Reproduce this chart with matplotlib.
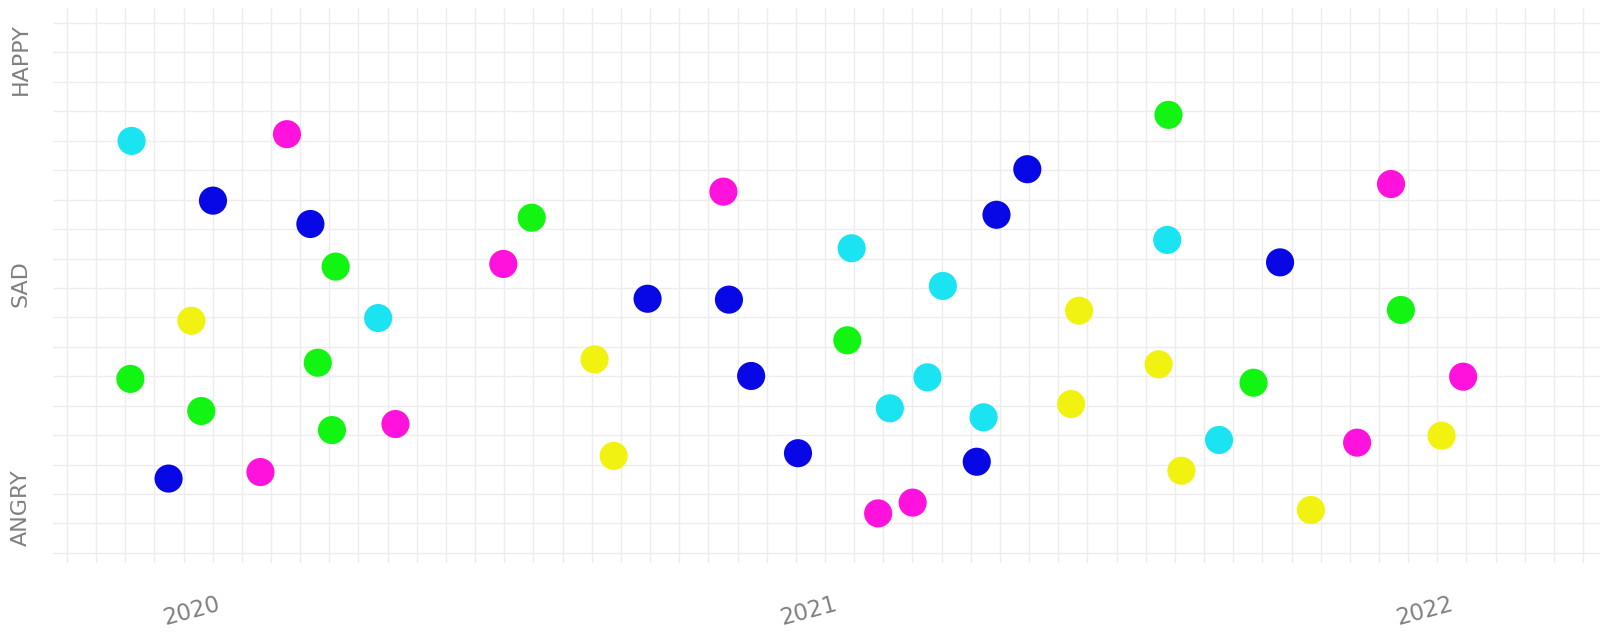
import matplotlib
matplotlib.use("Agg")
import matplotlib.pyplot as plt
import numpy as np

# Mood entries per colour group: x = decimal year, y = mood (1 angry, 2 sad, 3 happy)
cyanX = [2019.902, 2020.302, 2021.070, 2021.218, 2021.193, 2021.132, 2021.284, 2021.582, 2021.666]
cyanY = [2.635, 1.846, 2.157, 1.989, 1.582, 1.444, 1.404, 2.194, 1.303]

blueX = [2020.034, 2020.192, 2019.962, 2021.355, 2021.305, 2020.739, 2020.871, 2020.907, 2020.983, 2021.273, 2021.765]
blueY = [2.369, 2.265, 1.131, 2.509, 2.306, 1.932, 1.928, 1.588, 1.244, 1.206, 2.094]

magentaX = [2020.154, 2020.505, 2020.330, 2020.111, 2020.862, 2021.113, 2021.169, 2021.945, 2022.062, 2021.890]
magentaY = [2.665, 2.087, 1.374, 1.160, 2.409, 0.976, 1.024, 2.443, 1.585, 1.291]

greenX = [2020.233, 2020.551, 2020.204, 2019.900, 2020.015, 2020.227, 2021.063, 2021.584, 2021.961, 2021.722]
greenY = [2.075, 2.293, 1.647, 1.575, 1.432, 1.347, 1.747, 2.751, 1.882, 1.558]

yellowX = [2019.999, 2021.439, 2020.653, 2021.426, 2020.684, 2021.568, 2022.027, 2021.605, 2021.815]
yellowY = [1.834, 1.879, 1.662, 1.463, 1.232, 1.640, 1.322, 1.166, 0.991]

yearTicks = [2020, 2021, 2022]
yearLabels = ["2020", "2021", "2022"]
moodTicks = [1, 2, 3]
moodLabels = ["ANGRY", "SAD", "HAPPY"]

POINT_SIZE = 410
TEXT_COLOR = "#808080"
GRID_COLOR = "#ededed"

fig = plt.figure(figsize=(16.03, 6.32), dpi=100)
ax = fig.add_axes([53 / 1603, 1 - 563 / 632, 1547 / 1603, 555 / 632])

groups = [
    (cyanX, cyanY, "#1ae4f2"),
    (blueX, blueY, "#0808e6"),
    (magentaX, magentaY, "#ff12dc"),
    (greenX, greenY, "#12f512"),
    (yellowX, yellowY, "#f2f210"),
]
for xs, ys, col in groups:
    ax.scatter(xs, ys, s=POINT_SIZE, c=col, edgecolors="none", zorder=3)

ax.set_xlim(2019.7745, 2022.284)
ax.set_ylim(0.755, 3.227)

# Fine square grid, independent of the labelled ticks
ax.set_xticks(2019.797 + np.arange(53) * 0.0473, minor=True)
ax.set_yticks(3.160 - np.arange(19) * 0.1311, minor=True)
ax.grid(which="minor", color=GRID_COLOR, linewidth=1.0)
ax.grid(which="major", visible=False)

ax.set_xticks(yearTicks)
ax.set_xticklabels(yearLabels, rotation=15, fontsize=16.5, color=TEXT_COLOR)
ax.set_yticks(moodTicks)
ax.set_yticklabels(moodLabels, rotation=90, va="center", fontsize=16, color=TEXT_COLOR)
ax.tick_params(which="both", length=0)
ax.tick_params(axis="x", pad=21)
ax.tick_params(axis="y", pad=16)
ax.set_axisbelow(True)

for side in ax.spines.values():
    side.set_visible(False)

fig.savefig("out.png", dpi=100)
